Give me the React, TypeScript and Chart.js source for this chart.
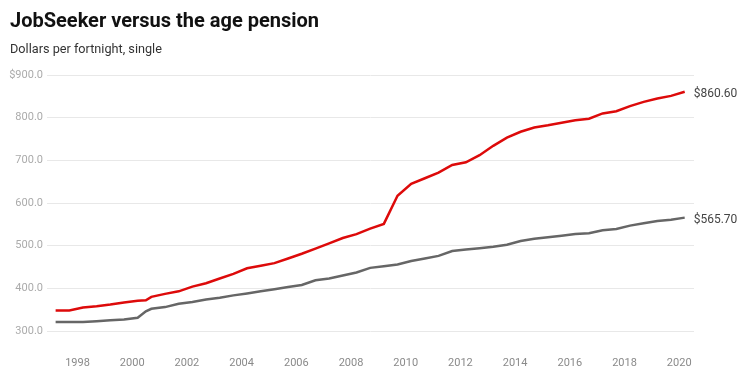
import React, { useEffect, useRef } from "react";
import { Chart, registerables } from "chart.js";

Chart.register(...registerables);

const years = [
  1997.2, 1997.7, 1998.2, 1998.7, 1999.2, 1999.7, 2000.2, 2000.5, 2000.7,
  2001.2, 2001.7, 2002.2, 2002.7, 2003.2, 2003.7, 2004.2, 2004.7, 2005.2,
  2005.7, 2006.2, 2006.7, 2007.2, 2007.7, 2008.2, 2008.7, 2009.2, 2009.7,
  2010.2, 2010.7, 2011.2, 2011.7, 2012.2, 2012.7, 2013.2, 2013.7, 2014.2,
  2014.7, 2015.2, 2015.7, 2016.2, 2016.7, 2017.2, 2017.7, 2018.2, 2018.7,
  2019.2, 2019.7, 2020.2,
];

const agePension = [
  348, 348, 355, 358, 362, 367, 371, 372, 380,
  387, 393, 404, 412, 423, 434, 447, 453, 459,
  470, 481, 493, 505.5, 518, 527, 540, 551, 617,
  645, 658, 671, 689, 695.5, 712, 734, 753, 767,
  777, 782, 788, 794, 797.5, 810, 815, 827, 837,
  845, 851, 860.6,
];

const jobSeeker = [
  321, 321, 321, 323, 325, 327, 331, 346, 352,
  356, 364, 368, 374, 378, 383.5, 388, 393, 398,
  403, 408, 419, 423, 430, 437, 448, 452, 456,
  464, 470, 476, 487.5, 491, 494, 497.5, 502, 511,
  516, 519.5, 523.5, 527.5, 529, 536, 539, 547, 552.5,
  558, 561, 565.7,
];

const seriesNames = ["Age pension", "JobSeeker"];
const yTicks = [300, 400, 500, 600, 700, 800, 900];
const xTicks = [1998, 2000, 2002, 2004, 2006, 2008, 2010, 2012, 2014, 2016, 2018, 2020];

const endLabels = {
  id: "endLabels",
  afterDatasetsDraw(chart: any) {
    const ctx = chart.ctx;
    ctx.save();
    ctx.font = "12px Roboto";
    ctx.fillStyle = "#444";
    ctx.textAlign = "left";
    ctx.textBaseline = "middle";
    chart.data.datasets.forEach((ds: any, i: number) => {
      const meta = chart.getDatasetMeta(i);
      const pt = meta.data[meta.data.length - 1];
      const v = ds.data[ds.data.length - 1].y;
      ctx.fillText("$" + v.toFixed(2), pt.x + 9, pt.y + 2);
    });
    ctx.restore();
  },
};

export default function App() {
  const ref = useRef<HTMLCanvasElement>(null);
  useEffect(() => {
    const chart = new Chart(ref.current as HTMLCanvasElement, {
      type: "line",
      data: {
        datasets: [
          {
            label: seriesNames[0],
            data: years.map((x, i) => ({ x, y: agePension[i] })),
            borderColor: "#dd0a0a",
            borderWidth: 2.5,
            pointRadius: 0,
            tension: 0,
          },
          {
            label: seriesNames[1],
            data: years.map((x, i) => ({ x, y: jobSeeker[i] })),
            borderColor: "#666666",
            borderWidth: 2.5,
            pointRadius: 0,
            tension: 0,
          },
        ],
      },
      options: {
        animation: false,
        responsive: false,
        maintainAspectRatio: false,
        layout: { padding: { top: 67, right: 52, bottom: 0, left: 0 } },
        plugins: { legend: { display: false }, tooltip: { enabled: false } },
        scales: {
          x: {
            type: "linear",
            min: 1996.885,
            max: 2020.54,
            afterBuildTicks: (scale: any) => {
              scale.ticks = xTicks.map((v) => ({ value: v }));
            },
            afterFit: (scale: any) => {
              scale.height = 47;
            },
            grid: { display: false, drawTicks: false },
            border: { display: false },
            ticks: {
              padding: 26,
              color: "#8a8a8a",
              font: { family: "Roboto", size: 11 },
              maxRotation: 0,
              autoSkip: false,
              callback: (v: any) => String(v),
            },
          },
          y: {
            type: "linear",
            min: 300,
            max: 900,
            afterBuildTicks: (scale: any) => {
              scale.ticks = yTicks.map((v) => ({ value: v }));
            },
            afterFit: (scale: any) => {
              scale.width = 39;
            },
            grid: { color: "#e8e8e8", lineWidth: 1, drawTicks: false },
            border: { display: false },
            ticks: {
              padding: 4,
              color: "#ababab",
              font: { family: "Roboto", size: 11 },
              callback: (v: any) => (v === 900 ? "$900.0" : Number(v).toFixed(1)),
            },
          },
        },
      },
      plugins: [endLabels],
    } as any);
    return () => chart.destroy();
  }, []);

  return (
    <div style={{ position: "relative", width: 738, height: 370, fontFamily: "Roboto" }}>
      <canvas ref={ref} width={738} height={370} style={{ position: "absolute", left: 0, top: 0 }} />
      <div
        style={{
          position: "absolute",
          left: 2,
          top: 0,
          fontSize: 20,
          fontWeight: 700,
          lineHeight: "24px",
          color: "#111",
          whiteSpace: "nowrap",
        }}
      >
        JobSeeker versus the age pension
      </div>
      <div
        style={{
          position: "absolute",
          left: 2,
          top: 32,
          fontSize: 12.7,
          lineHeight: "18px",
          color: "#333",
          whiteSpace: "nowrap",
        }}
      >
        Dollars per fortnight, single
      </div>
    </div>
  );
}
